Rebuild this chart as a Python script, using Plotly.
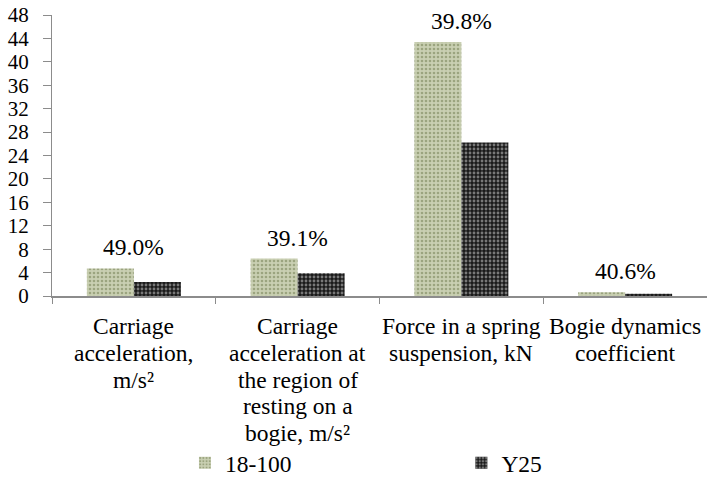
import plotly.graph_objects as go

categories = [
    "Carriage acceleration, m/s²",
    "Carriage acceleration at the region of resting on a bogie, m/s²",
    "Force in a spring suspension, kN",
    "Bogie dynamics coefficient",
]
category_lines = [
    ["Carriage", "acceleration,", "m/s²"],
    ["Carriage", "acceleration at", "the region of", "resting on a", "bogie, m/s²"],
    ["Force in a spring", "suspension, kN"],
    ["Bogie dynamics", "coefficient"],
]
series_18_100 = [4.7, 6.4, 43.4, 0.64]
series_y25 = [2.4, 3.9, 26.2, 0.38]
reduction_labels = ["49.0%", "39.1%", "39.8%", "40.6%"]
y_ticks = list(range(0, 49, 4))

FONT = "Liberation Serif"
FS = 23.5      # category labels, value labels, legend
FS_Y = 21      # y tick labels
LINE_H = 26.8  # line spacing of the category labels (px)

fig = go.Figure()
fig.add_trace(go.Bar(
    name="18-100", x=categories, y=series_18_100, legend="legend",
    marker=dict(
        color="#c9cfb2",
        line=dict(width=0),
        pattern=dict(shape=".", fgcolor="#6e7a4c", bgcolor="#c9cfb2", size=4, solidity=0.35),
    ),
))
fig.add_trace(go.Bar(
    name="Y25", x=categories, y=series_y25, legend="legend2",
    marker=dict(
        color="#1a1a1a",
        line=dict(width=0),
        pattern=dict(shape=".", fgcolor="#d8d8d8", bgcolor="#1a1a1a", size=4, solidity=0.4),
    ),
))

for cat, a, b, lab in zip(categories, series_18_100, series_y25, reduction_labels):
    fig.add_annotation(
        x=cat, y=max(a, b), text=lab, showarrow=False,
        yanchor="bottom", yshift=6,
        font=dict(family=FONT, size=FS, color="#000"),
    )

# category labels drawn line by line for tighter line spacing
for cat, lines in zip(categories, category_lines):
    for i, line in enumerate(lines):
        fig.add_annotation(
            x=cat, y=0, text=line, showarrow=False,
            xanchor="center", yanchor="middle", yshift=-(30 + i * LINE_H),
            font=dict(family=FONT, size=FS, color="#000"),
        )

legend_common = dict(
    orientation="h", yanchor="middle", xanchor="left", y=-0.596,
    font=dict(family=FONT, size=FS, color="#000"),
    bgcolor="rgba(0,0,0,0)",
)

fig.update_layout(
    width=707, height=485,
    margin=dict(l=52, r=0, t=15, b=188),
    paper_bgcolor="white", plot_bgcolor="white",
    barmode="group", bargap=0.426, bargroupgap=0,
    font=dict(family=FONT, size=FS, color="#000"),
    showlegend=True,
    legend=dict(x=0.203, **legend_common),
    legend2=dict(x=0.625, **legend_common),
    xaxis=dict(
        automargin=False,
        showline=True, linecolor="#8c8c8c", linewidth=2,
        ticks="outside", tickson="boundaries", ticklen=6, tickcolor="#8c8c8c",
        showgrid=False, showticklabels=False,
    ),
    yaxis=dict(
        automargin=False,
        range=[0, 48], tickvals=y_ticks,
        showline=True, linecolor="#8c8c8c", linewidth=1,
        ticks="outside", ticklen=8, tickcolor="#8c8c8c",
        showgrid=False, zeroline=False,
        tickfont=dict(family=FONT, size=FS_Y, color="#000"),
        ticklabelstandoff=10,
    ),
)

fig.write_html(
    "out.html",
    config={"displayModeBar": False},
    post_script="document.body.style.margin='0px';",
)
